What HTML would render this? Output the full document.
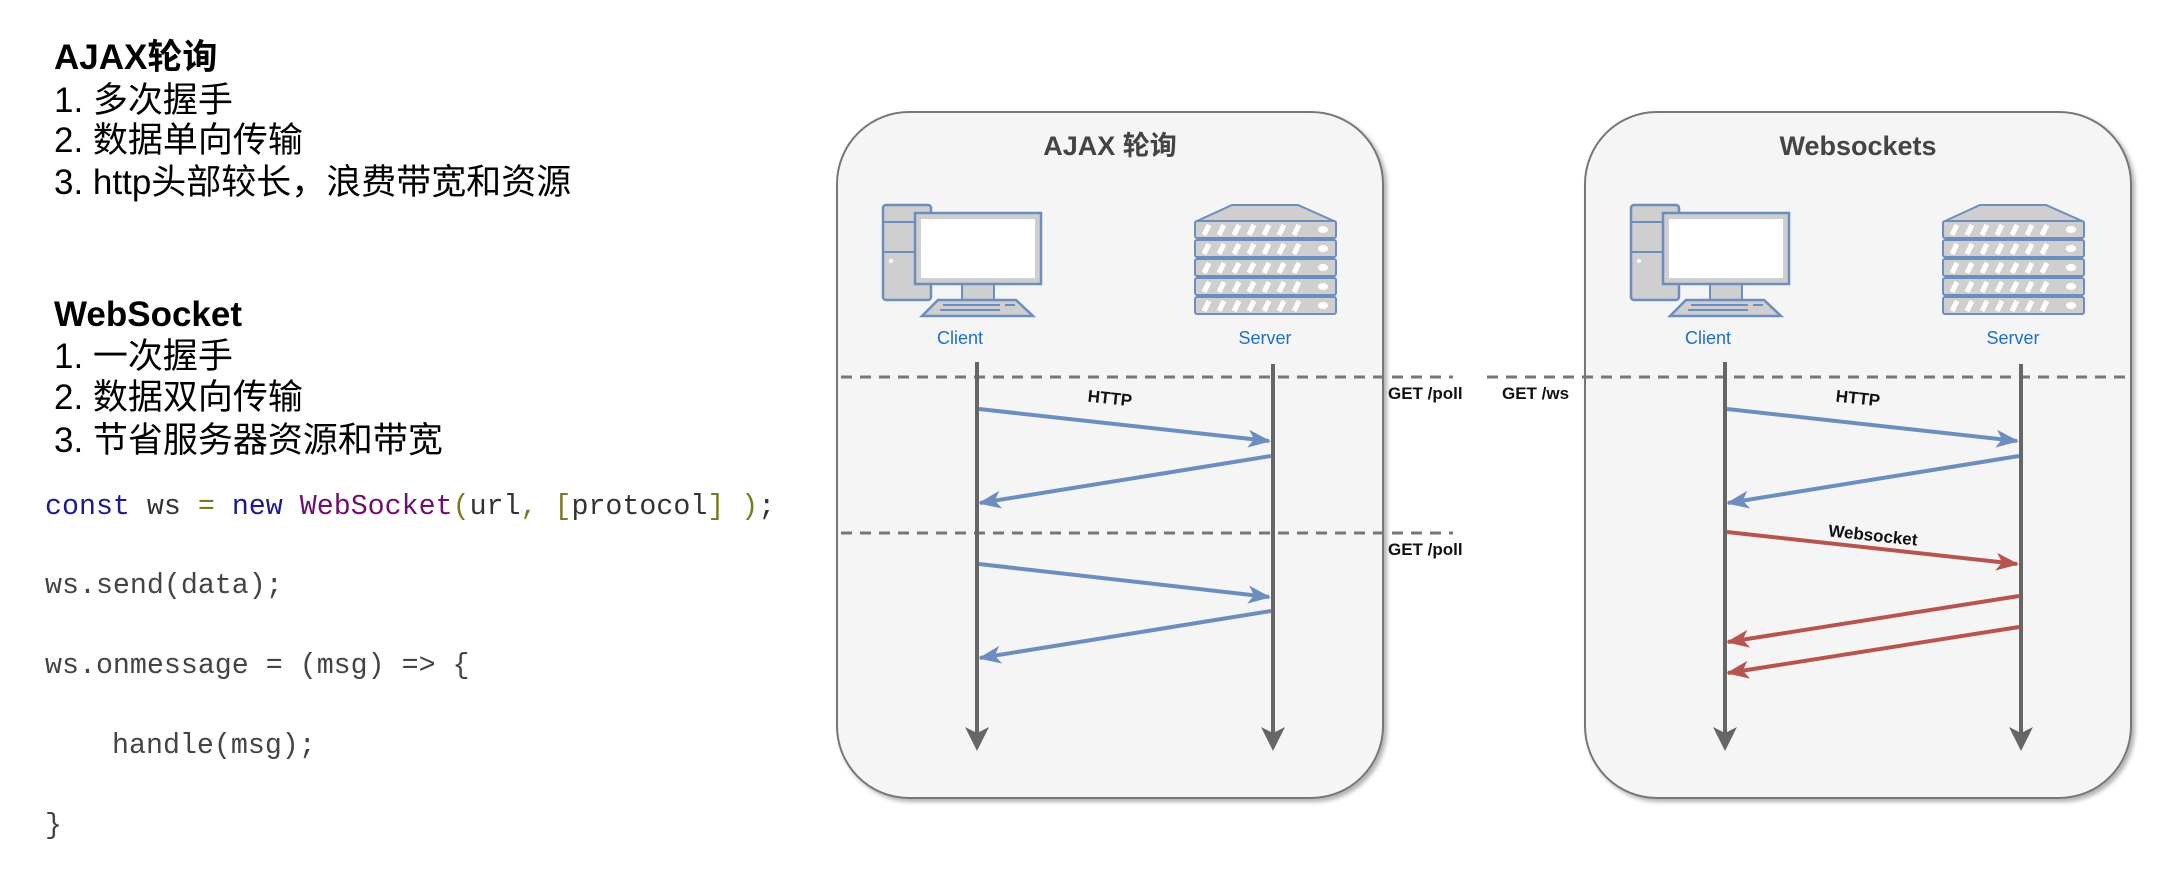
<!DOCTYPE html>
<html><head><meta charset="utf-8"><style>
html,body{margin:0;padding:0;background:#fff;}
svg{display:block;}
.cjk{font-family:"Liberation Sans","Noto Sans CJK SC",sans-serif;}
.mono{font-family:"Liberation Mono",monospace;}
</style></head><body>
<svg width="2182" height="894" viewBox="0 0 2182 894" xmlns="http://www.w3.org/2000/svg">
<defs>
<g id="client">
  <rect x="883" y="205" width="48" height="95" rx="3" fill="#cfcfcf" stroke="#6c8ebf" stroke-width="2.5"/>
  <line x1="883" y1="222" x2="931" y2="222" stroke="#6c8ebf" stroke-width="2"/>
  <line x1="883" y1="252" x2="931" y2="252" stroke="#6c8ebf" stroke-width="2"/>
  <circle cx="891" cy="261" r="2" fill="#fff"/>
  <rect x="962" y="282" width="32" height="19" fill="#cfcfcf" stroke="#6c8ebf" stroke-width="2"/>
  <rect x="915" y="213" width="126" height="71" fill="#cfcfcf" stroke="#6c8ebf" stroke-width="2.5"/>
  <rect x="921" y="219" width="114" height="59" fill="#fff"/>
  <polygon points="938,300 1016,300 1033,316 922,316" fill="#cfcfcf" stroke="#6c8ebf" stroke-width="2.5"/>
  <line x1="943" y1="305" x2="1000" y2="305" stroke="#6c8ebf" stroke-width="2"/>
  <line x1="940" y1="310" x2="1000" y2="310" stroke="#6c8ebf" stroke-width="2"/>
  <line x1="1005" y1="305" x2="1015" y2="305" stroke="#6c8ebf" stroke-width="2"/>
</g>
<g id="slab">
  <rect x="1195" y="0" width="141" height="17" rx="2" fill="#cfcfcf" stroke="#6c8ebf" stroke-width="2"/>
  <path d="M1204 14 L1209 4 M1219 14 L1224 4 M1234 14 L1239 4 M1249 14 L1254 4 M1264 14 L1269 4 M1279 14 L1284 4 M1294 14 L1299 4" stroke="#fff" stroke-width="5"/>
  <ellipse cx="1323" cy="8.5" rx="5" ry="3.5" fill="#fff"/>
</g>
<g id="server">
  <polygon points="1232,205 1298,205 1334,221 1197,221" fill="#cfcfcf" stroke="#6c8ebf" stroke-width="2"/>
  <use href="#slab" y="221"/>
  <use href="#slab" y="240"/>
  <use href="#slab" y="259"/>
  <use href="#slab" y="278"/>
  <use href="#slab" y="297"/>
</g>
<marker id="ab" markerWidth="24" markerHeight="18" refX="21" refY="9" orient="auto" markerUnits="userSpaceOnUse" viewBox="0 0 24 18"><path d="M0,0 L23,9 L0,18 L6,9 Z" fill="#6c8ebf"/></marker>
<marker id="ar" markerWidth="24" markerHeight="18" refX="21" refY="9" orient="auto" markerUnits="userSpaceOnUse" viewBox="0 0 24 18"><path d="M0,0 L23,9 L0,18 L6,9 Z" fill="#b85450"/></marker>
<filter id="sh" x="-5%" y="-5%" width="110%" height="110%"><feDropShadow dx="3" dy="3" stdDeviation="2" flood-color="#000" flood-opacity="0.3"/></filter>
</defs>

<!-- left text -->
<g class="cjk" font-size="35" fill="#000">
  <text x="54" y="69" font-weight="bold">AJAX轮询</text>
  <text x="54" y="112">1. 多次握手</text>
  <text x="54" y="152">2. 数据单向传输</text>
  <text x="54" y="194">3. http头部较长，浪费带宽和资源</text>
  <text x="54" y="326" font-weight="bold">WebSocket</text>
  <text x="54" y="368">1. 一次握手</text>
  <text x="54" y="409">2. 数据双向传输</text>
  <text x="54" y="452">3. 节省服务器资源和带宽</text>
</g>
<g class="mono" font-size="28.3" fill="#333" xml:space="preserve">
  <text x="45" y="514"><tspan fill="#1b1b8f">const</tspan> ws <tspan fill="#7a7a20">=</tspan> <tspan fill="#1b1b8f">new</tspan> <tspan fill="#6f0f6f">WebSocket</tspan><tspan fill="#7a7a20">(</tspan>url<tspan fill="#7a7a20">,</tspan> <tspan fill="#7a7a20">[</tspan>protocol<tspan fill="#7a7a20">]</tspan> <tspan fill="#7a7a20">)</tspan>;</text>
  <text x="45" y="593" fill="#444">ws.send(data);</text>
  <text x="45" y="673" fill="#444">ws.onmessage = (msg) =&gt; {</text>
  <text x="112" y="753" fill="#444">handle(msg);</text>
  <text x="45" y="833" fill="#444">}</text>
</g>

<!-- AJAX box -->
<rect x="837" y="112" width="546" height="686" rx="72" fill="#f5f5f5" stroke="#777" stroke-width="2" filter="url(#sh)"/>
<text x="1110" y="155" text-anchor="middle" class="cjk" font-size="27" font-weight="bold" fill="#444">AJAX 轮询</text>
<use href="#client"/>
<use href="#server"/>
<g font-family="Liberation Sans,sans-serif" font-size="18" fill="#1f6fc5" text-anchor="middle">
  <text x="960" y="344">Client</text>
  <text x="1265" y="344">Server</text>
</g>
<g stroke="#777" stroke-width="3" stroke-dasharray="11,8">
  <line x1="841" y1="377" x2="1453" y2="377"/>
  <line x1="841" y1="533" x2="1453" y2="533"/>
</g>
<g stroke="#666" stroke-width="4">
  <line x1="977" y1="362" x2="977" y2="735"/>
  <line x1="1273" y1="364" x2="1273" y2="735"/>
</g>
<g fill="#666">
  <polygon points="965,727 977,733 989,727 977,751"/>
  <polygon points="1261,727 1273,733 1285,727 1273,751"/>
</g>
<g font-family="Liberation Sans,sans-serif" font-size="17" font-weight="bold" fill="#111">
  <text x="1388" y="399">GET /poll</text>
  <text x="1388" y="555">GET /poll</text>
  <text x="1110" y="404" text-anchor="middle" transform="rotate(6 1110 398)">HTTP</text>
</g>
<g stroke="#6c8ebf" stroke-width="4" fill="none">
  <line x1="979" y1="409" x2="1269" y2="441" marker-end="url(#ab)"/>
  <line x1="1271" y1="456" x2="980" y2="503" marker-end="url(#ab)"/>
  <line x1="979" y1="564" x2="1269" y2="597" marker-end="url(#ab)"/>
  <line x1="1271" y1="611" x2="980" y2="658" marker-end="url(#ab)"/>
</g>

<!-- Websockets box -->
<rect x="1585" y="112" width="546" height="686" rx="72" fill="#f5f5f5" stroke="#777" stroke-width="2" filter="url(#sh)"/>
<g stroke="#777" stroke-width="3" stroke-dasharray="11,8">
  <line x1="1487" y1="377" x2="2131" y2="377"/>
</g>
<g stroke="#666" stroke-width="4">
  <line x1="1725" y1="362" x2="1725" y2="735"/>
  <line x1="2021" y1="364" x2="2021" y2="735"/>
</g>
<g fill="#666">
  <polygon points="1713,727 1725,733 1737,727 1725,751"/>
  <polygon points="2009,727 2021,733 2033,727 2021,751"/>
</g>
<text x="1858" y="155" text-anchor="middle" font-family="Liberation Sans,sans-serif" font-size="27" font-weight="bold" fill="#444">Websockets</text>
<use href="#client" x="748"/>
<use href="#server" x="748"/>
<g font-family="Liberation Sans,sans-serif" font-size="18" fill="#1f6fc5" text-anchor="middle">
  <text x="1708" y="344">Client</text>
  <text x="2013" y="344">Server</text>
</g>
<g font-family="Liberation Sans,sans-serif" font-size="17" font-weight="bold" fill="#111">
  <text x="1502" y="399">GET /ws</text>
  <text x="1858" y="404" text-anchor="middle" transform="rotate(6 1858 398)">HTTP</text>
  <text x="1873" y="541" text-anchor="middle" transform="rotate(6 1873 535)">Websocket</text>
</g>
<g stroke="#6c8ebf" stroke-width="4" fill="none">
  <line x1="1727" y1="409" x2="2017" y2="441" marker-end="url(#ab)"/>
  <line x1="2019" y1="456" x2="1728" y2="503" marker-end="url(#ab)"/>
</g>
<g stroke="#b85450" stroke-width="4" fill="none">
  <line x1="1727" y1="532" x2="2017" y2="564" marker-end="url(#ar)"/>
  <line x1="2019" y1="596" x2="1728" y2="642" marker-end="url(#ar)"/>
  <line x1="2019" y1="627" x2="1728" y2="673" marker-end="url(#ar)"/>
</g>
</svg>
</body></html>
